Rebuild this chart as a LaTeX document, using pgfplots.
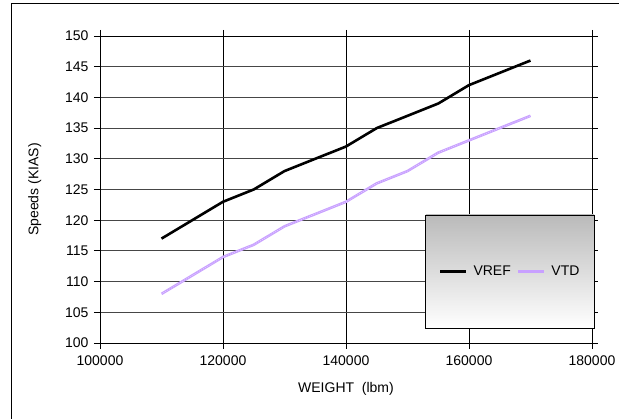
\documentclass[border=0pt]{standalone}
\usepackage{fontspec}
\setmainfont{Liberation Sans}
\usepackage{pgfplots}
\pgfplotsset{compat=1.18}
\definecolor{vtd}{RGB}{200,160,255}
\definecolor{hgrid}{RGB}{70,70,70}
\begin{document}
\begin{tikzpicture}
\useasboundingbox (0pt,0pt) rectangle (619pt,419pt);
\draw[black,line width=1pt] (11pt,-5pt) -- (11pt,415pt) -- (630pt,415pt);
\begin{axis}[
  at={(100pt,76pt)}, anchor=south west,
  width=492pt, height=307pt, scale only axis,
  xmin=100000, xmax=180000, ymin=100, ymax=150,
  xtick={100000,120000,140000,160000,180000},
  ytick={100,105,...,150},
  scaled x ticks=false,
  xticklabel style={yshift=-3pt, /pgf/number format/fixed, /pgf/number format/1000 sep={}, /pgf/number format/assume math mode=true},
  yticklabel style={xshift=-2pt, /pgf/number format/assume math mode=true},
  tick label style={font=\fontsize{14}{16}\selectfont},
  label style={font=\fontsize{14}{16}\selectfont},
  xlabel={WEIGHT\ \ (lbm)},
  ylabel={Speeds (KIAS)},
  xlabel style={yshift=-10pt},
  ylabel style={yshift=17pt},
  tick align=outside,
  major tick length=6pt,
  tick style={black, line width=0.8pt},
  axis line style={black, line width=0.9pt},
  grid=major,
  x grid style={black, line width=0.9pt},
  y grid style={hgrid, line width=0.9pt},
  clip=false,
  legend columns=2,
  legend style={at={(axis cs:166700,111.6)}, anchor=center, draw=none, fill=none,
    font=\fontsize{14}{16}\selectfont, column sep=4pt},
  legend image code/.code={\draw[#1] (0pt,0pt) -- (26pt,0pt);},
]
\addplot[black, line width=2.6pt, line join=round] coordinates {
(110000,117) (115000,120) (120000,123) (125000,125) (130000,128) (135000,130)
(140000,132) (145000,135) (150000,137) (155000,139) (160000,142) (165000,144) (170000,146)};
\addlegendentry{VREF}
\addplot[vtd, line width=2.6pt, line join=round] coordinates {
(110000,108) (115000,111) (120000,114) (125000,116) (130000,119) (135000,121)
(140000,123) (145000,126) (150000,128) (155000,131) (160000,133) (165000,135) (170000,137)};
\addlegendentry{VTD}
\addplot[white, opacity=0.45, line width=0.8pt, dash pattern=on 1pt off 1.2pt, forget plot] coordinates {
(110000,108) (115000,111) (120000,114) (125000,116) (130000,119) (135000,121)
(140000,123) (145000,126) (150000,128) (155000,131) (160000,133) (165000,135) (170000,137)};
\draw[black, line width=0.9pt, top color=black!27, bottom color=white]
  (axis cs:153000,120.85) rectangle (axis cs:180330,102.44);
\end{axis}
\end{tikzpicture}
\end{document}
